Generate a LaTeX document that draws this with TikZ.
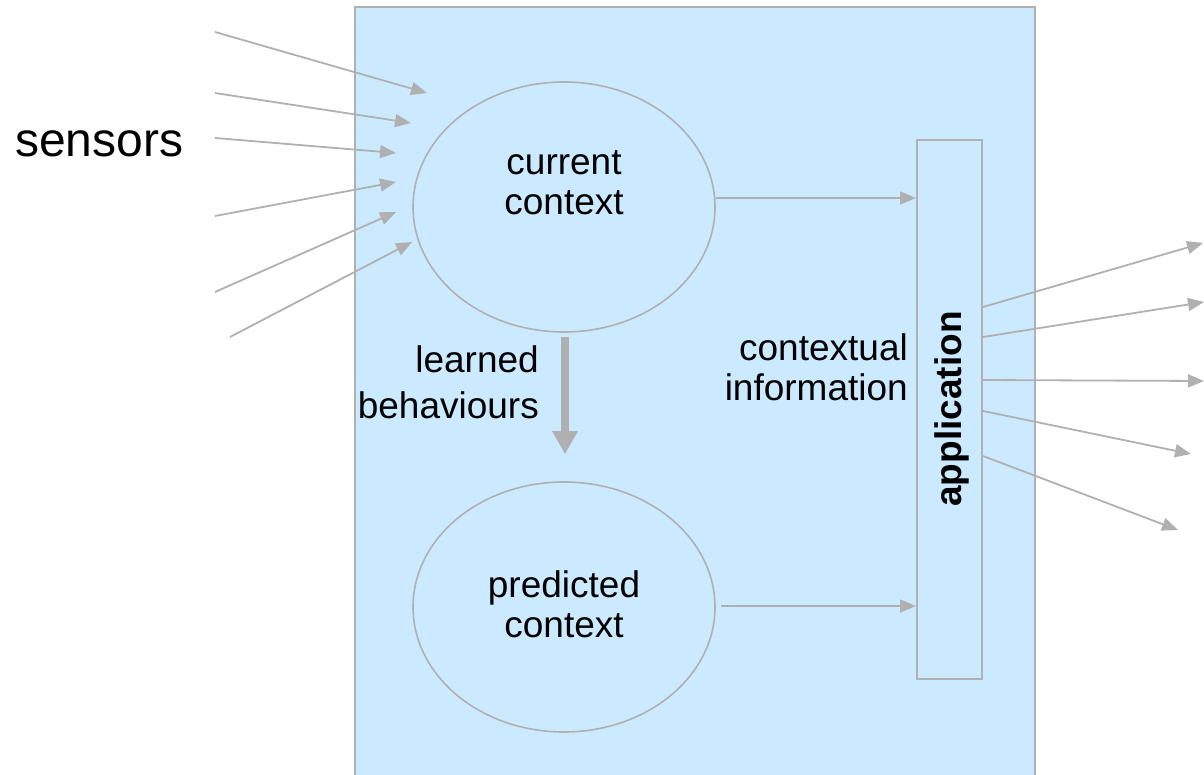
\documentclass[tikz,border=0pt]{standalone}
\usepackage{fontspec}
\setmainfont{Liberation Sans}
\usetikzlibrary{arrows.meta,shapes.geometric,calc}
\definecolor{boxblue}{RGB}{204,234,255}
\definecolor{lg}{RGB}{176,176,176}
\begin{document}
\begin{tikzpicture}[x=1pt,y=-1pt,
  mainbox/.style={draw=lg, fill=boxblue, line width=2pt},
  ctx/.style={ellipse, draw=lg, line width=1.6pt, minimum width=302pt, minimum height=250pt, inner sep=0pt},
  appbox/.style={rectangle, draw=lg, line width=2pt, minimum width=65pt, minimum height=539pt, inner sep=0pt},
  arr/.style={draw=lg, line width=1.8pt, -{Triangle[length=16pt,width=13pt]}},
  bigarr/.style={draw=lg, line width=8pt, -{Triangle[length=23pt,width=24pt]}},
  txt/.style={inner sep=0pt, font=\fontsize{37}{40}\selectfont},
]
\useasboundingbox (0,0) rectangle (1204,775);
% system box
\draw[mainbox] (355,7) rectangle (1035,800);

% nodes
\node[ctx] (cur) at (564,207) {};
\node[ctx] (pred) at (564,607) {};
\node[appbox] (app) at (949.5,409.5) {};

% texts (base anchor = baseline of the last line)
\node[inner sep=0pt, anchor=base west, font=\fontsize{48}{50}\selectfont] (sensors) at (15,157) {sensors};
\node[txt, align=center, anchor=base] (curtxt) at (564,215) {current\\context};
\node[txt, align=center, anchor=base] (predtxt) at (564,637) {predicted\\context};
\node[txt, align=right, anchor=base east, font=\fontsize{37}{46}\selectfont] (learned) at (539,418) {learned\\behaviours};
\node[txt, align=right, anchor=base east] (info) at (908,400) {contextual\\information};
\node[txt, rotate=90, font=\fontsize{37}{40}\selectfont\bfseries] (apptxt) at (952,409) {application};

% sensor inputs
\coordinate (s1) at (215,32);  \coordinate (t1) at (427,93);
\coordinate (s2) at (215,93);  \coordinate (t2) at (411,123);
\coordinate (s3) at (215,138); \coordinate (t3) at (396,153);
\coordinate (s4) at (215,216); \coordinate (t4) at (396,182);
\coordinate (s5) at (215,292); \coordinate (t5) at (396,212);
\coordinate (s6) at (230,337); \coordinate (t6) at (412,242);
\foreach \i in {1,...,6} \draw[arr] (s\i) -- (t\i);

% context to application
\draw[arr] (cur.east |- 0,198) -- (app.west |- 0,198);
\draw[arr] ($(pred.east)+(5,-1)$) -- (app.west |- 0,606);

% learned behaviours
\draw[bigarr] ($(cur.south)+(1,4)$) -- ($(pred.north)+(1,-27)$);

% outputs
\coordinate (o1) at (1203,243);
\coordinate (o2) at (1204,302);
\coordinate (o3) at (1204,381);
\coordinate (o4) at (1191,454);
\coordinate (o5) at (1178,530);
\draw[arr] (app.east |- 0,307) -- (o1);
\draw[arr] (app.east |- 0,337) -- (o2);
\draw[arr] (app.east |- 0,380) -- (o3);
\draw[arr] (app.east |- 0,411) -- (o4);
\draw[arr] (app.east |- 0,456) -- (o5);
\end{tikzpicture}
\end{document}
